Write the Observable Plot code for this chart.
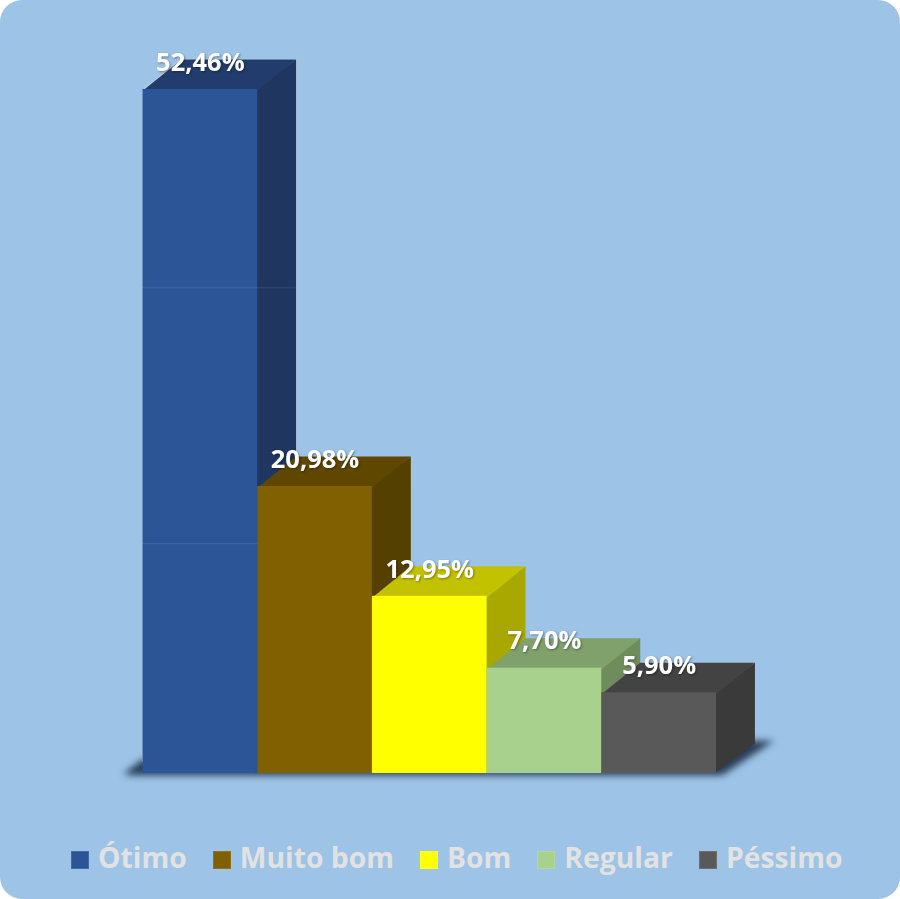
<!DOCTYPE html>
<html><head><meta charset="utf-8">
<script src="https://cdn.jsdelivr.net/npm/d3@7"></script>
<script src="https://cdn.jsdelivr.net/npm/@observablehq/plot@0.6"></script>
<style>
html,body{margin:0;padding:0;background:#fff}
#panel{width:900px;height:899px;background:#9dc3e6;border-radius:22px;overflow:hidden;position:relative}
#panel svg{display:block;background:transparent}
#legend{position:absolute;left:71px;top:838px;height:38px;display:flex;align-items:center;font:700 28.3px "Open Sans",sans-serif;color:#e2e2e2;white-space:nowrap}
#legend .item{display:flex;align-items:center;margin-right:26px}
#legend .sw{width:18px;height:18px;margin-right:9px;margin-top:5px;box-sizing:border-box;border:1px solid rgba(255,255,255,.12)}
</style></head>
<body><div id="panel"><div id="chart"></div><div id="legend"></div></div>
<script>
const categories = ["Ótimo","Muito bom","Bom","Regular","Péssimo"];
const values = [52.46,20.98,12.95,7.70,5.90];
const labels = ["52,46%","20,98%","12,95%","7,70%","5,90%"];
const frontColors = ["#2c5597","#806000","#ffff00","#a9d18e","#595959"];
const topColors = ["#223d6d","#5f4700","#c2c200","#80a06c","#434343"];
const sideColors = ["#1e3660","#544000","#a8a800","#6f8c5d","#3a3a3a"];
const seamLevels = [35.5,16.8];
const seamEnds = [1.335,1];
const axisMax = 50;     // the source axis stops at 50: the tallest bar is cut there
const depthX = 0.335, depthY = 2.19;
const overlap = 0.02;   // faces tuck under the next one so no seam shows

const rows = categories.map((c,i)=>({c,i,v:Math.min(values[i],axisMax),label:labels[i]}));
const faces = rows.flatMap(r=>{
  const {i,v}=r;
  const side=[[i+1-overlap,0],[i+1+depthX,depthY],[i+1+depthX,v+depthY],[i+1-overlap,v]];
  const top=[[i,v-overlap*4],[i+depthX,v+depthY],[i+1+depthX,v+depthY],[i+1,v-overlap*4]];
  return [
    ...side.map(([x,y])=>({x,y,id:"s"+i,col:sideColors[i]})),
    ...top.map(([x,y])=>({x,y,id:"t"+i,col:topColors[i]}))
  ];
});
const shadow = [[-0.17,-0.02],[0,1.05],[5.25,2.4],[5.5,2.4],[5.05,-0.13],[-0.1,-0.13]]
  .map(([x,y])=>({x,y}));
const outline = [[0,0.9],[0,axisMax-0.1],[0.02,axisMax+0.1]]
  .concat([[depthX,axisMax+depthY],[1+depthX,axisMax+depthY],[1+depthX,20.98+depthY]])
  .map(([x,y])=>({x,y}));

const chart = Plot.plot({
  width:900,height:835,margin:0,
  x:{type:"linear",domain:[0,5],range:[142.5,716],axis:null},
  y:{type:"linear",domain:[0,axisMax+depthY],range:[773,59],axis:null},
  color:{type:"identity"},
  marks:[
    Plot.line(shadow,{x:"x",y:"y",fill:"#1c2f48",stroke:"none",fillOpacity:0.9,imageFilter:"blur(3.5px)"}),
    Plot.line(outline,{x:"x",y:"y",stroke:"#b4d0ea",strokeWidth:1.6,fill:"none"}),
    Plot.line(faces,{x:"x",y:"y",z:"id",fill:"col",stroke:"none"}),
    Plot.rect(rows,{x1:"i",x2:d=>d.i+1,y1:0,y2:"v",fill:d=>frontColors[d.i]}),
    ...seamLevels.map((lv,k)=>Plot.ruleY([lv],{x1:0,x2:seamEnds[k],stroke:"#ffffff",strokeOpacity:0.1,strokeWidth:1})),
    Plot.text(rows,{x:d=>d.i+0.5,y:"v",text:"label",dy:-27,fill:"#fff",fontSize:25.5,fontWeight:700,
      fontFamily:"'Open Sans',sans-serif",lineAnchor:"middle",imageFilter:"drop-shadow(1px 1px 1px rgba(0,0,0,.35))"})
  ]
});
document.getElementById("chart").append(chart);
const legend=document.getElementById("legend");
categories.forEach((c,i)=>{
  const it=document.createElement("div");it.className="item";
  const s=document.createElement("span");s.className="sw";s.style.background=frontColors[i];
  const t=document.createElement("span");t.textContent=c;
  it.append(s,t);legend.append(it);
});
</script></body></html>
